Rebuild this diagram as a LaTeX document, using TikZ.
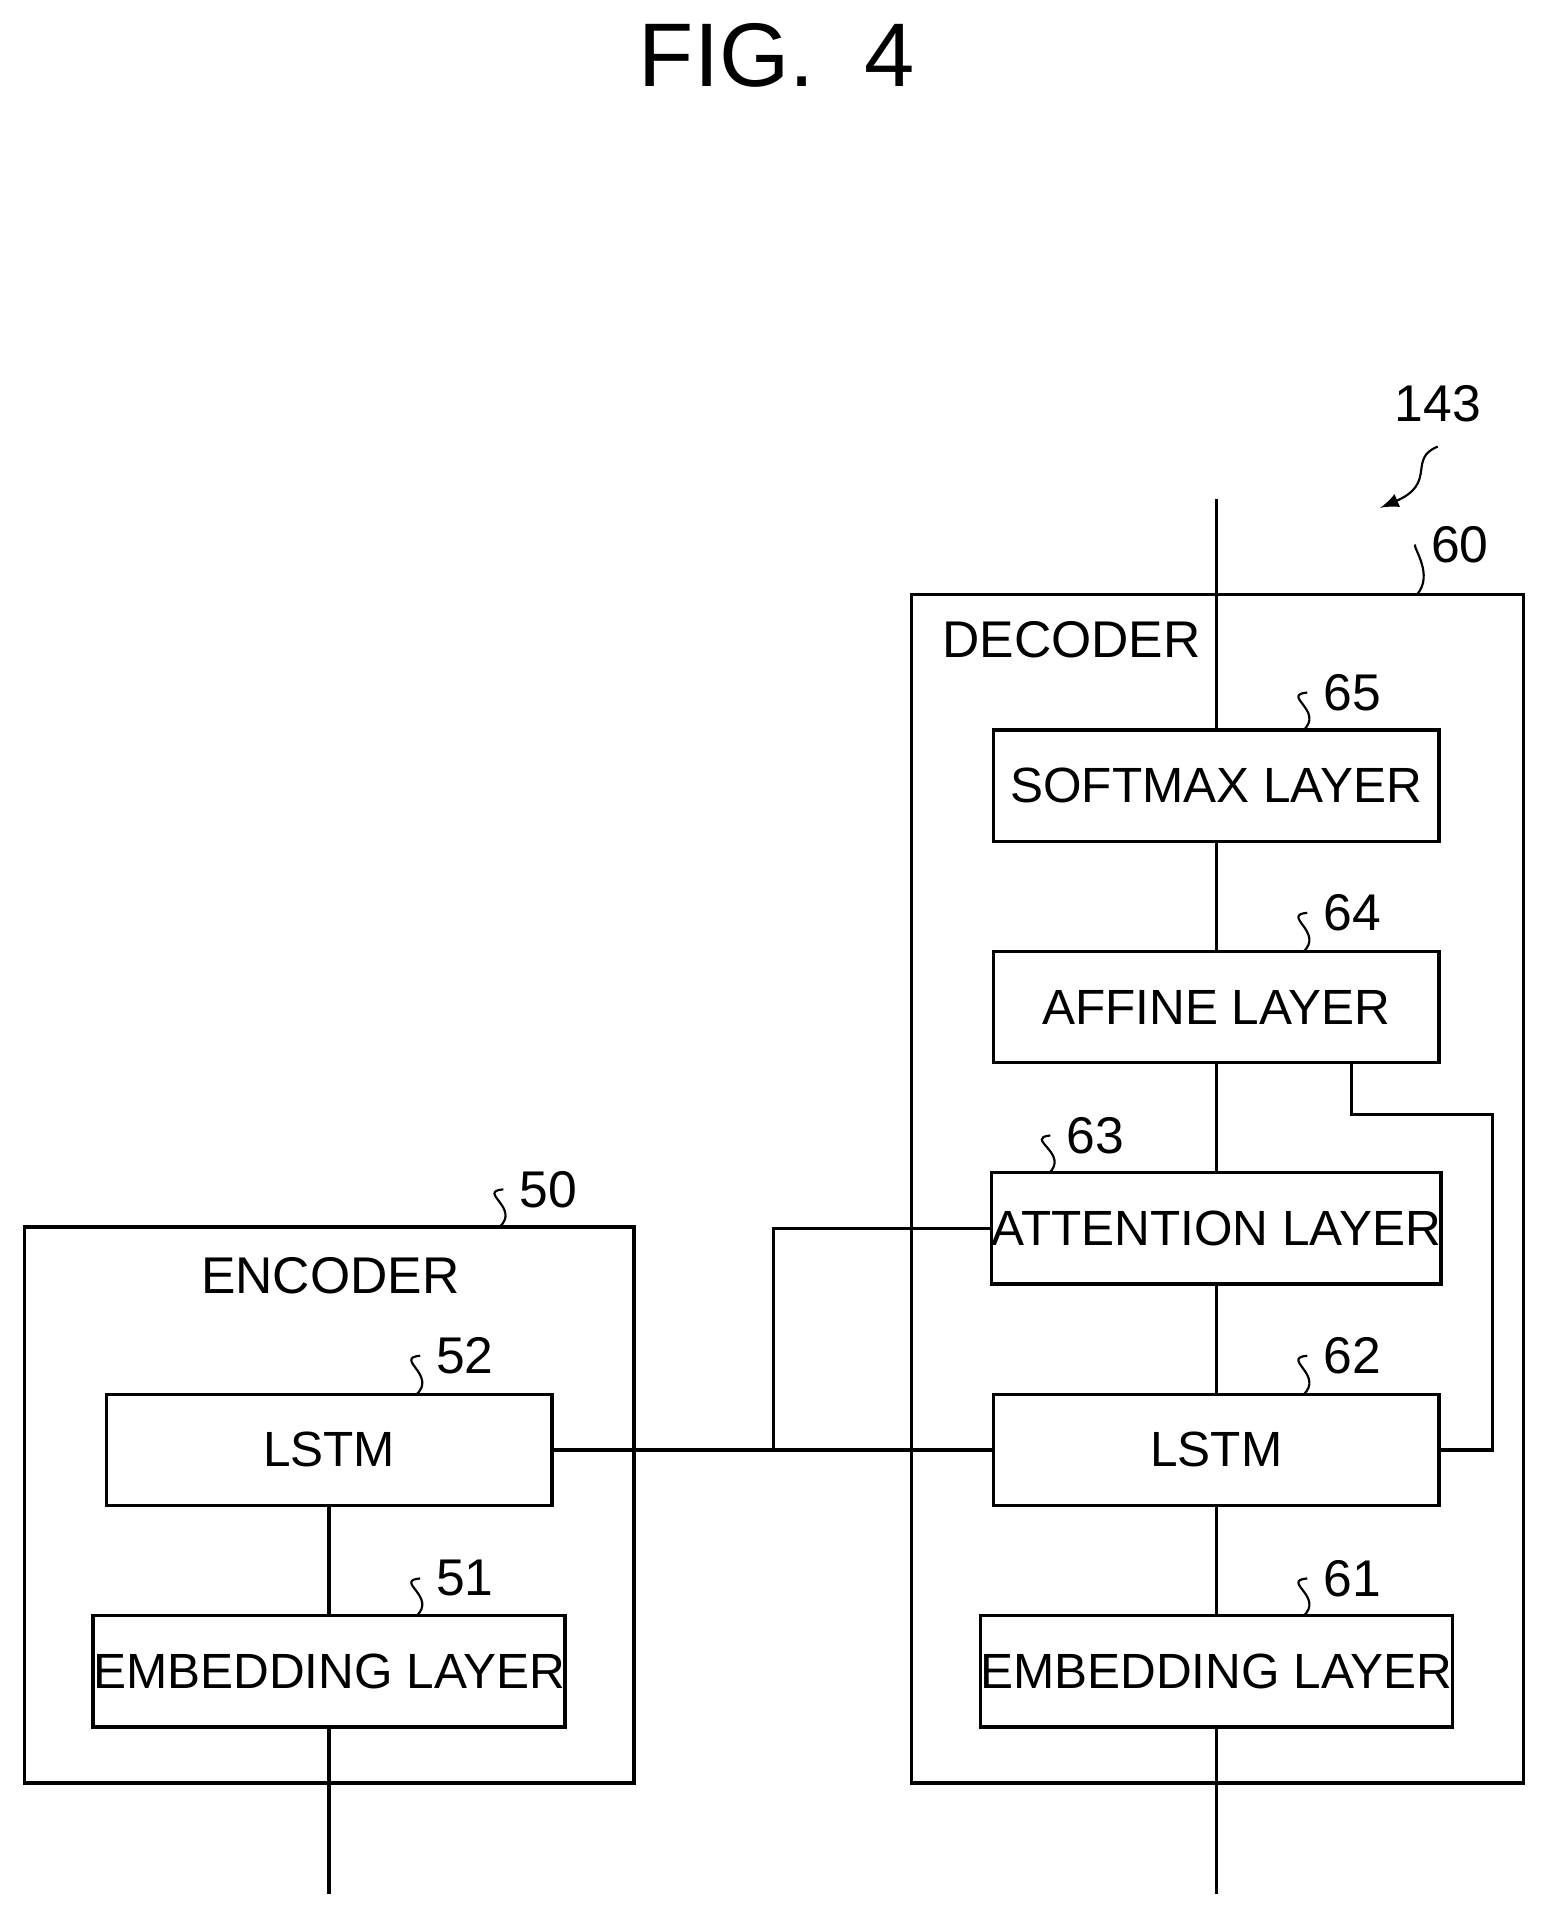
\documentclass[tikz,border=0pt]{standalone}
\usepackage{fontspec}
\setmainfont{Liberation Sans}
\begin{document}
\begin{tikzpicture}[x=0.01cm,y=-0.01cm,line width=0.8pt]
    \tikzset{layer/.style = {draw,minimum width=3.64cm,minimum height=0.91cm,inner sep=0pt,font=\fontsize{11.5}{13}\selectfont}}
    \tikzset{frame/.style = {draw,inner sep=0pt}}
    \tikzset{num/.style = {font=\fontsize{12}{14}\selectfont}}
    \tikzset{lead/.style = {line width=0.5pt}}
    \useasboundingbox (0,0) rectangle (1265,1570);
    \node[font=\fontsize{21}{24}\selectfont] (fig) at (635,45) {FIG.\ \ 4};
    % frames
    \node[frame,minimum width=5.00cm,minimum height=9.71cm] (dec) at (995,971.5) {};
    \node[frame,minimum width=4.98cm,minimum height=4.54cm] (enc) at (269,1230) {};
    \node[font=\fontsize{12}{14}\selectfont,anchor=west] (declabel) at (757,523) {DECODER};
    \node[font=\fontsize{12}{14}\selectfont] (enclabel) at (270,1043) {ENCODER};
    % decoder layers
    \node[layer] (softmax) at (994,642) {SOFTMAX LAYER};
    \node[layer] (affine) at (994,823) {AFFINE LAYER};
    \node[layer] (attn) at (994,1004) {ATTENTION LAYER};
    \node[layer] (declstm) at (994,1185) {LSTM};
    \node[layer] (decemb) at (994,1366) {EMBEDDING LAYER};
    % encoder layers
    \node[layer] (enclstm) at (269,1185) {LSTM};
    \node[layer] (encemb) at (269,1366) {EMBEDDING LAYER};
    % connectors
    \coordinate (out) at (994,408);
    \coordinate (decin) at (994,1548);
    \coordinate (encin) at (269,1548);
    \coordinate (fork) at (632,1185);
    \draw (out) -- (softmax);
    \draw (softmax) -- (affine);
    \draw (affine) -- (attn);
    \draw (attn) -- (declstm);
    \draw (declstm) -- (decemb);
    \draw (decemb) -- (decin);
    \draw (enclstm) -- (encemb);
    \draw (encemb) -- (encin);
    \draw (enclstm) -- (declstm);
    \draw (fork) |- (attn);
    \draw (affine.south east) ++(-73,0) |- (1220,911) |- (declstm.east);
    % reference numbers
    \node[num] (n143) at (1175,330) {143};
    \node[num] (n60) at (1193,445) {60};
    \node[num] (n65) at (1105,566) {65};
    \node[num] (n64) at (1105,746) {64};
    \node[num] (n63) at (895,928) {63};
    \node[num] (n62) at (1105,1108) {62};
    \node[num] (n61) at (1105,1290) {61};
    \node[num] (n50) at (448,972) {50};
    \node[num] (n52) at (380,1108) {52};
    \node[num] (n51) at (380,1290) {51};
    \draw[lead,-latex] (1175,365) .. controls (1150,375) and (1175,395) .. (1128,415);
    \draw[lead] (n60.west) .. controls (1155,448) and (1172,470) .. (1158,486);
    \foreach \n/\x/\y in {n65/1065/597,n64/1065/778,n62/1065/1140,n61/1065/1321,n52/340/1140,n51/340/1321,n50/408/1003,n63/857/959}
        \draw[lead] (\n.west) .. controls ++(-22,2) and (\x+18,\y-16) .. (\x,\y);
\end{tikzpicture}
\end{document}
